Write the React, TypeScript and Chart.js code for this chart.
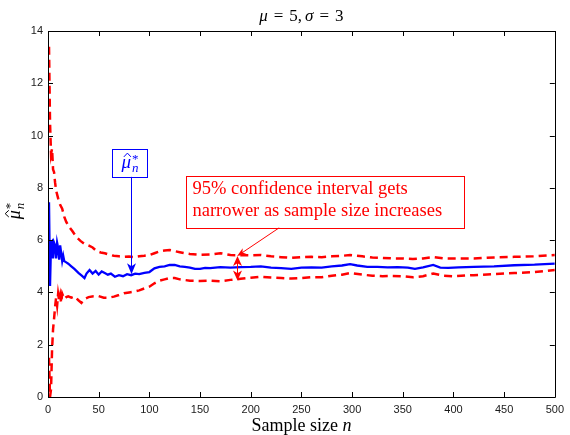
import React, { useEffect, useRef } from "react";
import { Chart, registerables } from "chart.js";
Chart.register(...registerables);

// ---- data ----
const meanN = [1, 2, 3, 4, 5, 6, 7, 8, 9, 10, 11, 12, 13, 14, 15, 16, 18, 20, 23, 26, 30, 33, 36, 38, 41, 44, 47, 50, 53, 56, 59, 62, 66, 70, 74, 78, 82, 86, 90, 95, 100, 105, 110, 115, 120, 125, 130, 135, 140, 145, 150, 155, 160, 170, 180, 190, 200, 210, 220, 230, 240, 250, 260, 270, 280, 290, 298, 305, 315, 325, 335, 345, 355, 362, 370, 380, 387, 395, 405, 420, 440, 460, 480, 500];
const meanV = [7.45, 4.25, 5.9, 5.95, 5.3, 5.9, 5.8, 5.3, 5.9, 5.7, 5.25, 5.8, 5.5, 5.2, 5.4, 5.2, 5.15, 5.1, 5.0, 4.9, 4.75, 4.65, 4.55, 4.72, 4.86, 4.72, 4.82, 4.68, 4.8, 4.74, 4.68, 4.72, 4.6, 4.66, 4.62, 4.7, 4.66, 4.72, 4.7, 4.75, 4.78, 4.92, 4.98, 5.0, 5.05, 5.05, 5.0, 4.98, 4.95, 4.9, 4.9, 4.94, 4.93, 4.97, 4.95, 4.97, 4.98, 5.0, 4.95, 4.93, 4.9, 4.95, 4.96, 4.95, 5.0, 5.03, 5.08, 5.03, 4.98, 4.98, 4.96, 4.97, 4.95, 4.9, 4.96, 5.05, 4.95, 4.94, 4.96, 4.98, 5.0, 5.04, 5.06, 5.1];

const upperN = [1, 2, 3, 4, 5, 6, 7, 8, 10, 12, 14, 16, 18, 21, 24, 28, 32, 36, 40, 44, 48, 52, 56, 60, 65, 70, 75, 80, 85, 90, 95, 100, 105, 110, 115, 120, 125, 130, 135, 140, 150, 160, 170, 180, 190, 200, 210, 220, 230, 240, 250, 260, 270, 280, 290, 298, 310, 320, 330, 340, 350, 360, 370, 380, 390, 400, 420, 440, 460, 480, 500];
const upperV = [13.4, 10.5, 9.3, 9.5, 8.7, 8.6, 8.2, 7.9, 7.6, 7.35, 7.2, 6.9, 6.7, 6.5, 6.35, 6.12, 5.97, 5.85, 5.8, 5.72, 5.58, 5.53, 5.5, 5.45, 5.4, 5.38, 5.36, 5.37, 5.35, 5.38, 5.4, 5.43, 5.5, 5.57, 5.6, 5.62, 5.58, 5.54, 5.5, 5.47, 5.44, 5.45, 5.5, 5.43, 5.42, 5.42, 5.43, 5.38, 5.35, 5.32, 5.35, 5.36, 5.35, 5.38, 5.4, 5.43, 5.38, 5.34, 5.32, 5.3, 5.3, 5.28, 5.3, 5.35, 5.3, 5.3, 5.3, 5.34, 5.36, 5.38, 5.43];

const lowerN = [1, 2, 3, 4, 5, 6, 7, 8, 9, 10, 11, 12, 13, 14, 16, 18, 20, 23, 26, 30, 33, 36, 40, 45, 50, 55, 60, 65, 70, 75, 80, 85, 90, 95, 100, 105, 110, 115, 120, 125, 130, 140, 150, 160, 170, 180, 190, 200, 210, 220, 230, 240, 250, 260, 270, 280, 290, 298, 310, 320, 330, 340, 350, 360, 370, 380, 390, 400, 420, 440, 460, 480, 500];
const lowerV = [1.5, 0.0, 0.3, 1.8, 2.6, 3.0, 3.45, 3.8, 3.5, 3.95, 3.7, 3.9, 3.6, 3.95, 3.75, 3.82, 3.85, 3.8, 3.85, 3.7, 3.6, 3.75, 3.82, 3.85, 3.86, 3.8, 3.8, 3.84, 3.9, 3.97, 4.0, 4.03, 4.08, 4.15, 4.22, 4.35, 4.45, 4.5, 4.55, 4.55, 4.5, 4.45, 4.44, 4.45, 4.43, 4.48, 4.52, 4.56, 4.6, 4.57, 4.55, 4.53, 4.55, 4.58, 4.58, 4.64, 4.68, 4.74, 4.68, 4.64, 4.62, 4.63, 4.62, 4.58, 4.62, 4.72, 4.64, 4.62, 4.66, 4.7, 4.74, 4.78, 4.86];

const xTicks = [0, 50, 100, 150, 200, 250, 300, 350, 400, 450, 500];
const yTicks = [0, 2, 4, 6, 8, 10, 12, 14];

const ciLines = ["95% confidence interval gets", "narrower as sample size increases"];
const xLabelText = "Sample size ";
const xLabelVar = "n";

// annotation anchors, in data units
const blueBox = { x0: 63, x1: 98, y0: 8.42, y1: 9.48 };
const blueArrow = { x: 81.5, yFrom: 8.42, yTo: 4.7 };
const redBox = { x0: 136.5, x1: 410.5, y0: 6.47, y1: 8.45 };
const redArrow = { xFrom: 228, yFrom: 6.47, xTo: 186.6, yTo: 5.39 };
const dblArrow = { x: 186.6, yTop: 5.39, yBot: 4.46 };

const SERIF = '"Liberation Serif", "Times New Roman", serif';
const SANS = '"Liberation Sans", Arial, sans-serif';

function toXY(n: number[], v: number[]) {
  return n.map((x, i) => ({ x, y: v[i] }));
}

function arrowHead(ctx: CanvasRenderingContext2D, x1: number, y1: number, x2: number, y2: number, len: number, w: number) {
  const a = Math.atan2(y2 - y1, x2 - x1);
  ctx.save();
  ctx.translate(x2, y2);
  ctx.rotate(a);
  ctx.beginPath();
  ctx.moveTo(0, 0);
  ctx.lineTo(-len, -w / 2);
  ctx.lineTo(-len * 0.72, 0);
  ctx.lineTo(-len, w / 2);
  ctx.closePath();
  ctx.fill();
  ctx.restore();
}

function drawMuHatStarN(ctx: CanvasRenderingContext2D, cx: number, cy: number, size: number, color: string) {
  ctx.save();
  ctx.fillStyle = color;
  ctx.strokeStyle = color;
  ctx.textBaseline = "alphabetic";
  ctx.textAlign = "left";
  ctx.font = `italic ${size}px ${SERIF}`;
  const muW = ctx.measureText("μ").width;
  const small = Math.round(size * 0.7);
  ctx.font = `italic ${small}px ${SERIF}`;
  const nW = ctx.measureText("n").width;
  const total = muW + nW + 1;
  const sx = cx - total / 2;
  const base = cy + size * 0.2;
  ctx.font = `italic ${size}px ${SERIF}`;
  ctx.fillText("μ", sx, base);
  // hat
  ctx.lineWidth = 1;
  ctx.beginPath();
  ctx.moveTo(sx + muW * 0.25, base - size * 0.6);
  ctx.lineTo(sx + muW * 0.62, base - size * 0.8);
  ctx.lineTo(sx + muW * 0.99, base - size * 0.6);
  ctx.stroke();
  ctx.font = `${small}px ${SERIF}`;
  ctx.fillText("*", sx + muW + 1, base - size * 0.3);
  ctx.font = `italic ${small}px ${SERIF}`;
  ctx.fillText("n", sx + muW + 1, base + size * 0.22);
  ctx.restore();
}

const decorPlugin = {
  id: "decor",
  afterDraw(chart: any) {
    const ctx: CanvasRenderingContext2D = chart.ctx;
    const xs = chart.scales.x;
    const ys = chart.scales.y;
    const { left, right, top, bottom } = chart.chartArea;
    const px = (v: number) => xs.getPixelForValue(v);
    const py = (v: number) => ys.getPixelForValue(v);

    ctx.save();
    // axes box and inward ticks
    ctx.strokeStyle = "#000";
    ctx.lineWidth = 1;
    ctx.beginPath();
    ctx.rect(Math.round(left) + 0.5, Math.round(top) + 0.5, Math.round(right - left), Math.round(bottom - top));
    ctx.stroke();
    const tl = 5;
    ctx.beginPath();
    xTicks.forEach((t) => {
      const x = Math.round(px(t)) + 0.5;
      ctx.moveTo(x, bottom);
      ctx.lineTo(x, bottom - tl);
      ctx.moveTo(x, top);
      ctx.lineTo(x, top + tl);
    });
    yTicks.forEach((t) => {
      const y = Math.round(py(t)) + 0.5;
      ctx.moveTo(left, y);
      ctx.lineTo(left + tl, y);
      ctx.moveTo(right, y);
      ctx.lineTo(right - tl, y);
    });
    ctx.stroke();

    // title: mu = 5, sigma = 3
    const tsize = 17;
    const parts: [string, boolean, number][] = [
      ["μ", true, 6], ["=", false, 6], ["5,", false, 3], ["σ", true, 6], ["=", false, 6], ["3", false, 0],
    ];
    let tw = 0;
    parts.forEach(([s, it, g]) => {
      ctx.font = `${it ? "italic " : ""}${tsize}px ${SERIF}`;
      tw += ctx.measureText(s).width + g;
    });
    let tx = (left + right) / 2 - tw / 2;
    ctx.fillStyle = "#000";
    ctx.textBaseline = "alphabetic";
    ctx.textAlign = "left";
    parts.forEach(([s, it, g]) => {
      ctx.font = `${it ? "italic " : ""}${tsize}px ${SERIF}`;
      ctx.fillText(s, tx, top - 10);
      tx += ctx.measureText(s).width + g;
    });

    // x label
    const xls = 18;
    ctx.font = `${xls}px ${SERIF}`;
    const w1 = ctx.measureText(xLabelText).width;
    ctx.font = `italic ${xls}px ${SERIF}`;
    const w2 = ctx.measureText(xLabelVar).width;
    const lx = (left + right) / 2 - (w1 + w2) / 2;
    const ly = bottom + 34;
    ctx.font = `${xls}px ${SERIF}`;
    ctx.fillText(xLabelText, lx, ly);
    ctx.font = `italic ${xls}px ${SERIF}`;
    ctx.fillText(xLabelVar, lx + w1, ly);

    // y label (rotated)
    ctx.save();
    ctx.translate(16, (top + bottom) / 2 - 3);
    ctx.rotate(-Math.PI / 2);
    drawMuHatStarN(ctx, 0, 0, 18, "#000");
    ctx.restore();

    // blue annotation box
    ctx.strokeStyle = "#0000ff";
    ctx.lineWidth = 1;
    const bx0 = Math.round(px(blueBox.x0)) + 0.5, bx1 = Math.round(px(blueBox.x1)) + 0.5;
    const by0 = Math.round(py(blueBox.y1)) + 0.5, by1 = Math.round(py(blueBox.y0)) + 0.5;
    ctx.fillStyle = "#fff";
    ctx.fillRect(bx0, by0, bx1 - bx0, by1 - by0);
    ctx.strokeRect(bx0, by0, bx1 - bx0, by1 - by0);
    drawMuHatStarN(ctx, (bx0 + bx1) / 2, (by0 + by1) / 2 + 1, 19, "#0000ff");
    // blue arrow
    const ax = Math.round(px(blueArrow.x)) + 0.5;
    const ay0 = py(blueArrow.yFrom), ay1 = py(blueArrow.yTo);
    ctx.beginPath();
    ctx.moveTo(ax, ay0);
    ctx.lineTo(ax, ay1 - 6);
    ctx.stroke();
    ctx.fillStyle = "#0000ff";
    arrowHead(ctx, ax, ay0, ax, ay1, 11, 9);

    // red annotation box
    ctx.strokeStyle = "#ff0000";
    ctx.fillStyle = "#ff0000";
    const rx0 = Math.round(px(redBox.x0)) + 0.5, rx1 = Math.round(px(redBox.x1)) + 0.5;
    const ry0 = Math.round(py(redBox.y1)) + 0.5, ry1 = Math.round(py(redBox.y0)) + 0.5;
    ctx.strokeRect(rx0, ry0, rx1 - rx0, ry1 - ry0);
    ctx.font = `18.5px ${SERIF}`;
    ctx.textBaseline = "middle";
    ctx.fillText(ciLines[0], rx0 + 6, ry0 + 13);
    ctx.fillText(ciLines[1], rx0 + 6, ry0 + 35);
    // red slanted arrow
    const sx0 = px(redArrow.xFrom), sy0 = py(redArrow.yFrom);
    const sx1 = px(redArrow.xTo), sy1 = py(redArrow.yTo);
    ctx.beginPath();
    ctx.moveTo(sx0, sy0);
    ctx.lineTo(sx1 + (sx0 - sx1) * 0.12, sy1 + (sy0 - sy1) * 0.12);
    ctx.stroke();
    arrowHead(ctx, sx0, sy0, sx1, sy1, 9, 7);
    // double arrow
    const dx = Math.round(px(dblArrow.x)) + 0.5;
    const dy0 = py(dblArrow.yTop), dy1 = py(dblArrow.yBot);
    ctx.beginPath();
    ctx.moveTo(dx, dy0 + 5);
    ctx.lineTo(dx, dy1 - 5);
    ctx.stroke();
    arrowHead(ctx, dx, dy1, dx, dy0, 10, 9);
    arrowHead(ctx, dx, dy0, dx, dy1, 10, 9);
    ctx.restore();
  },
};

export default function App() {
  const ref = useRef<HTMLCanvasElement | null>(null);
  useEffect(() => {
    document.body.style.margin = "0";
    const canvas = ref.current!;
    const dash = [8, 5];
    const chart = new Chart(canvas, {
      type: "line",
      data: {
        datasets: [
          {
            data: toXY(upperN, upperV),
            borderColor: "#ff0000",
            borderWidth: 2.5,
            borderDash: dash,
            pointRadius: 0,
            tension: 0,
            fill: false,
          },
          {
            data: toXY(lowerN, lowerV),
            borderColor: "#ff0000",
            borderWidth: 2.5,
            borderDash: dash,
            pointRadius: 0,
            tension: 0,
            fill: false,
          },
          {
            data: toXY(meanN, meanV),
            borderColor: "#0000ff",
            borderWidth: 2.3,
            pointRadius: 0,
            tension: 0,
            fill: false,
          },
        ],
      },
      options: {
        animation: false,
        responsive: false,
        devicePixelRatio: 1,
        layout: { padding: { top: 31, right: 13, left: 0, bottom: 0 } },
        plugins: { legend: { display: false }, tooltip: { enabled: false }, title: { display: false } },
        scales: {
          x: {
            type: "linear",
            min: 0,
            max: 500,
            grid: { display: false, drawTicks: false },
            border: { display: false },
            afterBuildTicks: (s: any) => {
              s.ticks = xTicks.map((v) => ({ value: v }));
            },
            afterFit: (s: any) => {
              s.height = 38;
            },
            ticks: {
              autoSkip: false,
              maxRotation: 0,
              padding: 6,
              color: "#1a1a1a",
              font: { family: SANS, size: 11 },
            },
          },
          y: {
            type: "linear",
            min: 0,
            max: 14,
            grid: { display: false, drawTicks: false },
            border: { display: false },
            afterBuildTicks: (s: any) => {
              s.ticks = yTicks.map((v) => ({ value: v }));
            },
            afterFit: (s: any) => {
              s.width = 48;
            },
            ticks: {
              autoSkip: false,
              padding: 5,
              color: "#1a1a1a",
              font: { family: SANS, size: 11 },
            },
          },
        },
      },
      plugins: [decorPlugin],
    } as any);
    return () => chart.destroy();
  }, []);
  return <canvas ref={ref} width={570} height={435} style={{ display: "block", width: 570, height: 435 }} />;
}
